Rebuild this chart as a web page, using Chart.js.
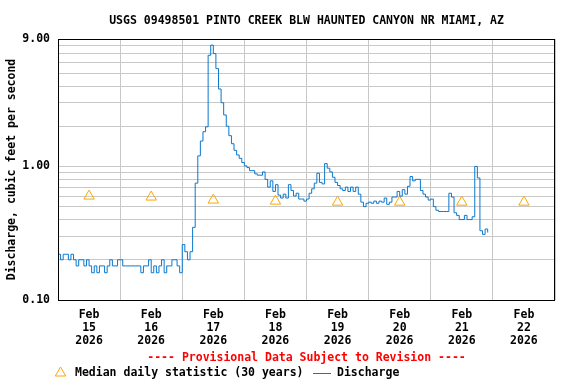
<!DOCTYPE html>
<html>
<head>
<meta charset="utf-8">
<title>Pinto Creek discharge</title>
<script src="https://cdn.jsdelivr.net/npm/chart.js@4.4.1/dist/chart.umd.min.js"></script>
<style>
  html, body { margin: 0; padding: 0; background: #fff; }
</style>
</head>
<body>
<canvas id="flow_chart" width="576" height="384"></canvas>
<script>
// --------------- text and ticks -----------------
const titleText = 'USGS 09498501 PINTO CREEK BLW HAUNTED CANYON NR MIAMI, AZ';
const yAxisTitle = 'Discharge, cubic feet per second';
const provisionalText = '---- Provisional Data Subject to Revision ----';
const medianLabel = 'Median daily statistic (30 years)';
const dischargeLabel = 'Discharge';

const monthLabel = 'Feb';
const yearLabel = '2026';
const dayLabels = ['15', '16', '17', '18', '19', '20', '21', '22'];

const yGridValues = [0.1, 0.2, 0.3, 0.4, 0.5, 0.6, 0.7, 0.8, 0.9, 1, 2, 3, 4, 5, 6, 7, 8, 9];
const yLabelValues = [0.1, 1, 9];

// median daily statistic (30 years), one value per day
const medianFlow = [0.60, 0.59, 0.56, 0.55, 0.54, 0.54, 0.54, 0.54];

// discharge, cfs, one value per hour from 00:00
const flowFeb15 = [0.22, 0.20, 0.22, 0.22, 0.20, 0.22, 0.20, 0.18, 0.20, 0.20, 0.18, 0.20,
    0.18, 0.16, 0.18, 0.16, 0.18, 0.18, 0.16, 0.18, 0.20, 0.18, 0.18, 0.20];
const flowFeb16 = [0.20, 0.18, 0.18, 0.18, 0.18, 0.18, 0.18, 0.18, 0.16, 0.18, 0.18, 0.20,
    0.16, 0.18, 0.16, 0.18, 0.20, 0.16, 0.18, 0.18, 0.20, 0.20, 0.18, 0.16];
const flowFeb17 = [0.26, 0.23, 0.20, 0.23, 0.35, 0.75, 1.20, 1.55, 1.82, 1.98, 6.8, 8.1,
    7.0, 5.4, 3.8, 3.0, 2.43, 2.0, 1.70, 1.48, 1.32, 1.22, 1.15, 1.07];
const flowFeb18 = [1.01, 0.98, 0.93, 0.93, 0.88, 0.86, 0.86, 0.91, 0.80, 0.70, 0.78, 0.65,
    0.73, 0.61, 0.58, 0.62, 0.58, 0.73, 0.66, 0.60, 0.63, 0.57, 0.57, 0.55];
const flowFeb19 = [0.57, 0.63, 0.68, 0.75, 0.89, 0.76, 0.74, 1.05, 0.97, 0.91, 0.83, 0.76,
    0.72, 0.68, 0.66, 0.70, 0.65, 0.70, 0.65, 0.70, 0.62, 0.54, 0.50, 0.53];
const flowFeb20 = [0.54, 0.53, 0.55, 0.53, 0.55, 0.54, 0.58, 0.52, 0.54, 0.59, 0.59, 0.65,
    0.60, 0.67, 0.62, 0.71, 0.84, 0.78, 0.80, 0.80, 0.66, 0.62, 0.59, 0.56];
const flowFeb21 = [0.57, 0.50, 0.47, 0.46, 0.46, 0.46, 0.46, 0.63, 0.59, 0.45, 0.43, 0.40,
    0.40, 0.43, 0.40, 0.40, 0.42, 1.00, 0.82, 0.33, 0.31, 0.34, 0.32];

const hourlyFlow = [].concat(flowFeb15, flowFeb16, flowFeb17, flowFeb18, flowFeb19, flowFeb20, flowFeb21);

const fontFamily = "'DejaVu Sans Mono', monospace";
const textFont = { family: fontFamily, size: 11.5, weight: 'bold', lineHeight: '13px' };

// black frame round the plot area
const plotFrame = {
    id: 'plotFrame',
    afterDatasetsDraw(chart) {
        const { ctx, chartArea: a } = chart;
        ctx.save();
        ctx.strokeStyle = '#000';
        ctx.lineWidth = 1;
        ctx.strokeRect(Math.round(a.left) + 0.5, Math.round(a.top) + 0.5,
            Math.round(a.right - a.left) - 1, Math.round(a.bottom - a.top));
        ctx.restore();
    }
};

// provisional note and legend under the axis
const footer = {
    id: 'footer',
    afterDraw(chart) {
        const { ctx, chartArea: a } = chart;
        const y1 = a.bottom + 58;
        const y2 = a.bottom + 73;
        ctx.save();
        ctx.font = 'bold 11.5px ' + fontFamily;
        ctx.textBaseline = 'middle';
        ctx.textAlign = 'center';
        ctx.fillStyle = '#ff0000';
        ctx.fillText(provisionalText, (a.left + a.right) / 2, y1);

        // open triangle, same as the chart markers
        ctx.fillStyle = 'rgba(0,0,0,0)';
        ctx.strokeStyle = '#ffa500';
        ctx.lineWidth = 1;
        Chart.helpers.drawPoint(ctx, { pointStyle: 'triangle', radius: 6, rotation: 0, borderWidth: 1 }, 60.5, y2);

        ctx.textAlign = 'left';
        ctx.fillStyle = '#000';
        ctx.fillText(medianLabel, 75, y2);

        ctx.strokeStyle = '#0a78cc';
        ctx.beginPath();
        ctx.moveTo(313, y2 + 0.5);
        ctx.lineTo(331, y2 + 0.5);
        ctx.stroke();
        ctx.fillText(dischargeLabel, 337, y2);
        ctx.restore();
    }
};

const ctx = document.getElementById('flow_chart');

new Chart(ctx, {
    type: 'line',
    data: {
        datasets: [{
            label: dischargeLabel,
            data: hourlyFlow.map((v, i) => ({ x: i, y: v })),
            borderColor: '#0a78cc',
            borderWidth: 1,
            pointRadius: 0,
            stepped: true,
            fill: false
        }, {
            label: medianLabel,
            data: medianFlow.map((v, d) => ({ x: d * 24 + 12, y: v })),
            showLine: false,
            pointStyle: 'triangle',
            pointRadius: 6,
            pointBorderWidth: 1,
            pointBorderColor: '#ffa500',
            pointBackgroundColor: 'rgba(0,0,0,0)'
        }]
    },
    options: {
        responsive: false,
        animation: false,
        devicePixelRatio: 1,
        layout: { padding: { left: 0, right: 21, top: 0, bottom: 34 } },
        plugins: {
            legend: { display: false },
            tooltip: { enabled: false },
            title: {
                display: true,
                text: titleText,
                fullSize: false,
                color: '#000',
                font: textFont,
                padding: { top: 15, bottom: 11 }
            }
        },
        scales: {
            x: {
                type: 'linear',
                min: 0,
                max: 192,
                afterBuildTicks: (scale) => {
                    const ticks = [];
                    for (let h = 0; h <= 192; h += 12) ticks.push({ value: h });
                    scale.ticks = ticks;
                },
                afterFit: (scale) => { scale.height = 50; },
                border: { display: false },
                grid: {
                    drawTicks: false,
                    color: (c) => (c.tick && c.tick.value % 24 === 0) ? '#c8c8c8' : 'rgba(0,0,0,0)'
                },
                ticks: {
                    autoSkip: false,
                    maxRotation: 0,
                    padding: 9,
                    color: '#000',
                    font: textFont,
                    callback: (value) => value % 24 === 12
                        ? [monthLabel, dayLabels[(value - 12) / 24], yearLabel] : ''
                }
            },
            y: {
                type: 'logarithmic',
                min: 0.1,
                max: 9,
                afterBuildTicks: (scale) => {
                    scale.ticks = yGridValues.map(v => ({ value: v }));
                },
                afterFit: (scale) => { scale.width = 58; },
                border: { display: false },
                grid: { drawTicks: false, color: '#c8c8c8' },
                title: {
                    display: true,
                    text: yAxisTitle,
                    color: '#000',
                    font: textFont,
                    padding: { top: 6, bottom: 0 }
                },
                ticks: {
                    autoSkip: false,
                    padding: 8,
                    color: '#000',
                    font: textFont,
                    callback: (value) => yLabelValues.includes(value) ? value.toFixed(2) : ''
                }
            }
        }
    },
    plugins: [plotFrame, footer]
});
</script>
</body>
</html>
